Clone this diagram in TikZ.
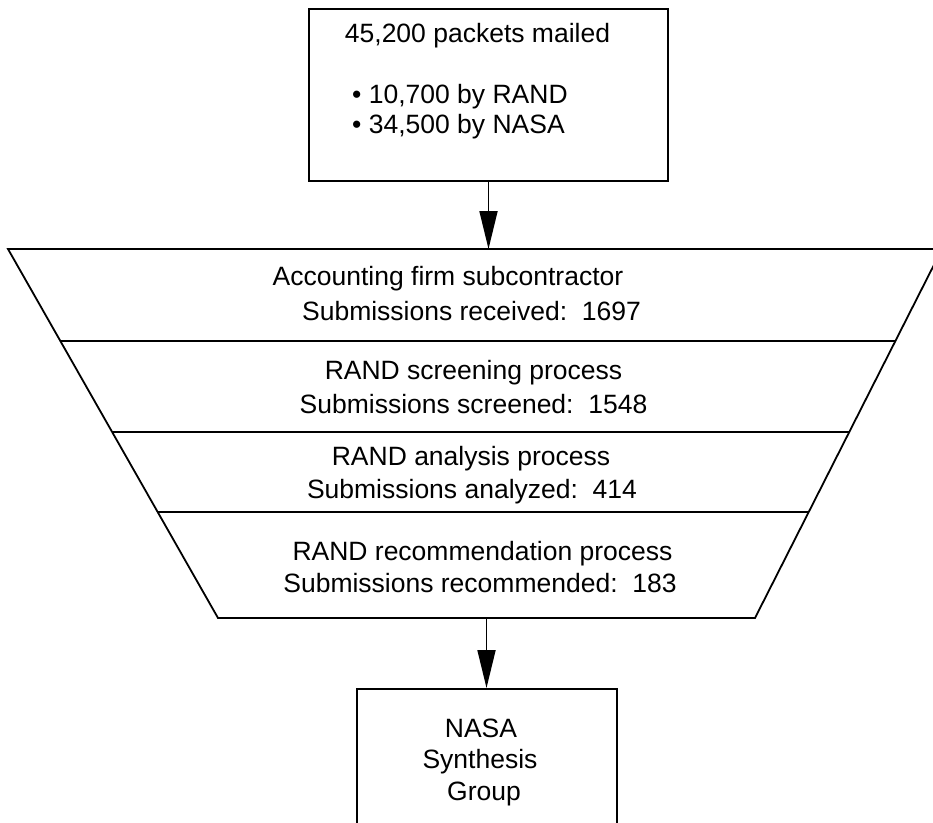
\documentclass[tikz,border=0pt]{standalone}
\usepackage{fontspec}
\setmainfont{Liberation Sans}
\usetikzlibrary{arrows.meta,calc}
\begin{document}
\begin{tikzpicture}[x=1pt,y=-1pt,
  edge/.style={line width=1.8pt,black},
  box/.style={draw,line width=1.8pt,rectangle,inner sep=0pt},
  lbl/.style={font=\fontsize{26.5}{31.5}\selectfont,inner sep=0pt,anchor=base},
  arr/.style={line width=1.8pt,-{Triangle[length=38pt,width=18pt]}}]
\useasboundingbox (0,0) rectangle (933,822);
\clip (0,0) rectangle (933,822);

% top box
\node[box,minimum width=359pt,minimum height=172pt] (top) at (488.5,95) {};
\node[lbl] (t0) at (477.5,42) {45,200 packets mailed};
\node[lbl,anchor=base west] (t1) at (352,103) {•\ 10,700 by RAND};
\node[lbl,anchor=base west] (t2) at (352,133) {•\ 34,500 by NASA};

% funnel
\coordinate (TL) at (8,249);
\coordinate (TR) at (942,249);
\coordinate (BR) at (755,618);
\coordinate (BL) at (218,618);
\draw[edge,line join=miter] (TL) -- (TR) -- (BR) -- (BL) -- cycle;
\foreach \t in {0.2493,0.4959,0.7127}
  \draw[edge] ($(TL)!\t!(BL)$) -- ($(TR)!\t!(BR)$);

\node[lbl] (a1) at (448,285) {Accounting firm subcontractor};
\node[lbl] (a2) at (471.5,320) {Submissions received:\ \ 1697};
\node[lbl] (b1) at (473.5,379) {RAND screening process};
\node[lbl] (b2) at (473.5,413) {Submissions screened:\ \ 1548};
\node[lbl] (c1) at (471,465) {RAND analysis process};
\node[lbl] (c2) at (472,498) {Submissions analyzed:\ \ 414};
\node[lbl] (d1) at (482.5,560) {RAND recommendation process};
\node[lbl] (d2) at (480,592) {Submissions recommended:\ \ 183};

% bottom box
\node[box,minimum width=260pt,minimum height=170pt,anchor=north] (nasa) at (487,688) {};
\node[lbl] (n1) at (481,737) {NASA};
\node[lbl] (n2) at (480,768) {Synthesis};
\node[lbl] (n3) at (484,800) {Group};

% arrows
\coordinate (tin) at (top.south |- TL);
\draw[arr] (top.south) -- (tin);
\coordinate (tout) at ($(BL)!0.5!(BR)$);
\draw[arr] (tout) -- (tout |- nasa.north);
\end{tikzpicture}
\end{document}
